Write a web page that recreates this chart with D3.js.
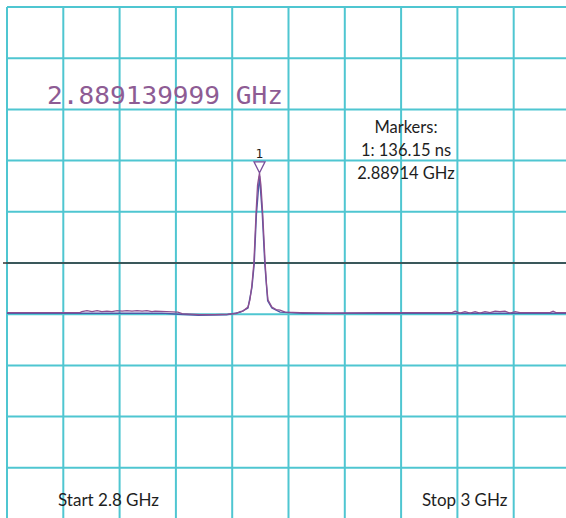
<!DOCTYPE html>
<html>
<head>
<meta charset="utf-8">
<script src="https://cdn.jsdelivr.net/npm/d3@7"></script>
<style>
  html, body { margin: 0; padding: 0; background: #fff; }
  svg { display: block; }
</style>
</head>
<body>
<div id="chartContainer"></div>
<script>
var width = 566;
var height = 518;

// span and level settings
var startFreq = 2.8;
var stopFreq = 3.0;
var refTop = 0;        // dB at top graticule line
var refBottom = -100;  // dB at bottom graticule line (10 dB / div)
var refLine = -50;     // dark reference level line
var divisions = 10;

// purple trace (noisy)
var traceFreq = [2.8000, 2.8259, 2.8266, 2.8284, 2.8302, 2.8320, 2.8337, 2.8355, 2.8373, 2.8391,
  2.8409, 2.8426, 2.8444, 2.8462, 2.8480, 2.8497, 2.8515, 2.8526, 2.8607, 2.8622,
  2.8686, 2.8739, 2.8785, 2.8814, 2.8828, 2.8838, 2.8856, 2.8863, 2.8870, 2.8877,
  2.8885, 2.8890, 2.8897, 2.8902, 2.8908, 2.8917, 2.8922, 2.8927, 2.8941, 2.8956,
  2.8970, 2.8988, 2.9041, 2.9147, 2.9325, 2.9467, 2.9581, 2.9592, 2.9609, 2.9627,
  2.9645, 2.9663, 2.9680, 2.9698, 2.9716, 2.9734, 2.9751, 2.9769, 2.9787, 2.9805,
  2.9822, 2.9840, 2.9929, 2.9940, 2.9950, 3.0000];
var traceLevel = [-59.7, -59.7, -59.5, -59.3, -59.5, -59.3, -59.5, -59.4, -59.5, -59.3,
  -59.4, -59.3, -59.4, -59.3, -59.4, -59.3, -59.5, -59.4, -59.6, -59.9,
  -60.1, -60.1, -60.0, -59.9, -59.5, -59.4, -58.6, -57.2, -54.3, -50.0,
  -40.0, -34.8, -32.4, -34.8, -40.0, -50.0, -54.3, -57.2, -58.6, -59.1,
  -59.2, -59.6, -59.7, -59.8, -59.7, -59.7, -59.7, -59.4, -59.8, -59.5,
  -59.8, -59.5, -59.8, -59.5, -59.7, -59.4, -59.5, -59.4, -59.8, -59.5,
  -59.7, -59.7, -59.7, -59.4, -59.7, -59.7];

// blue trace (smoother, underneath)
var floorFreq = [2.8000, 2.8260, 2.8550, 2.8610, 2.8680, 2.8780, 2.8830, 2.8856, 2.8870, 2.8878,
  2.8886, 2.8897, 2.8907, 2.8916, 2.8926, 2.8941, 2.8970, 2.9050, 3.0000];
var floorLevel = [-59.8, -59.8, -59.8, -60.0, -60.2, -60.1, -59.6, -58.8, -54.8, -50.3,
  -40.5, -33.0, -40.5, -50.3, -57.4, -58.8, -59.6, -59.8, -59.8];

var markerFreq = 2.8897;
var markerLevel = -32.4;
var readout = "2.889139999 GHz";
var markerLines = ["Markers:", "1: 136.15 ns", "2.88914 GHz"];
var startLabel = "Start 2.8 GHz";
var stopLabel = "Stop 3 GHz";

var svg = d3.select("#chartContainer").append("svg")
    .attr("width", width)
    .attr("height", height);

var x = d3.scaleLinear().domain([startFreq, stopFreq]).range([7, 7 + divisions * 56.3]);
var y = d3.scaleLinear().domain([refTop, refBottom]).range([7, 7 + divisions * 51.2]);

// graticule
var xTicks = d3.range(divisions + 1).map(function (i) { return startFreq + i * (stopFreq - startFreq) / divisions; });
var yTicks = d3.range(divisions + 1).map(function (i) { return refTop + i * (refBottom - refTop) / divisions; });

svg.append("g").selectAll("line")
    .data(xTicks).enter().append("line")
    .attr("x1", function (d) { return x(d); })
    .attr("x2", function (d) { return x(d); })
    .attr("y1", y(refTop))
    .attr("y2", y(refBottom))
    .attr("stroke", "#4fc6d1")
    .attr("stroke-width", 2);

svg.append("g").selectAll("line")
    .data(yTicks).enter().append("line")
    .attr("x1", x(startFreq))
    .attr("x2", x(stopFreq))
    .attr("y1", function (d) { return y(d); })
    .attr("y2", function (d) { return y(d); })
    .attr("stroke", "#4fc6d1")
    .attr("stroke-width", 2);

// reference level line
svg.append("line")
    .attr("x1", 3)
    .attr("x2", width)
    .attr("y1", y(refLine))
    .attr("y2", y(refLine))
    .attr("stroke", "#333")
    .attr("stroke-width", 1.6);

var line = d3.line()
    .x(function (d) { return x(d[0]); })
    .y(function (d) { return y(d[1]); });

svg.append("path")
    .datum(d3.zip(floorFreq, floorLevel))
    .attr("d", line)
    .attr("fill", "none")
    .attr("stroke", "#4b5aa8")
    .attr("stroke-width", 1.4);

svg.append("path")
    .datum(d3.zip(traceFreq, traceLevel))
    .attr("d", line)
    .attr("fill", "none")
    .attr("stroke", "#8d4f91")
    .attr("stroke-width", 1.3);

// marker triangle and number
var mx = x(markerFreq), my = y(markerLevel);
svg.append("path")
    .attr("d", "M" + (mx - 5.5) + "," + (my - 11) + "L" + (mx + 5.5) + "," + (my - 11) + "L" + mx + "," + my + "Z")
    .attr("fill", "#fff")
    .attr("stroke", "#7a4f9a")
    .attr("stroke-width", 1.3);
svg.append("text")
    .attr("x", mx)
    .attr("y", my - 15)
    .attr("text-anchor", "middle")
    .style("font-family", "DejaVu Sans")
    .style("font-size", "12px")
    .style("fill", "#1a1a1a")
    .text("1");

// big frequency readout
svg.append("text")
    .attr("x", 47)
    .attr("y", 104)
    .attr("textLength", 236)
    .attr("lengthAdjust", "spacingAndGlyphs")
    .style("font-family", "DejaVu Sans Mono")
    .style("font-size", "25px")
    .style("fill", "#8e5c94")
    .text(readout);

// marker readout block
svg.selectAll("marker_text")
    .data(markerLines)
    .enter()
    .append("text")
    .attr("x", 406)
    .attr("y", function (d, i) { return 133 + i * 23; })
    .attr("text-anchor", "middle")
    .style("font-family", "Lato")
    .style("font-size", "16.5px")
    .style("fill", "#1e1e1e")
    .text(function (d) { return d; });

svg.append("text")
    .attr("x", 58)
    .attr("y", 506)
    .style("font-family", "Lato")
    .style("font-size", "17px")
    .style("fill", "#1e1e1e")
    .text(startLabel);

svg.append("text")
    .attr("x", 422)
    .attr("y", 506)
    .style("font-family", "Lato")
    .style("font-size", "17px")
    .style("fill", "#1e1e1e")
    .text(stopLabel);
</script>
</body>
</html>
